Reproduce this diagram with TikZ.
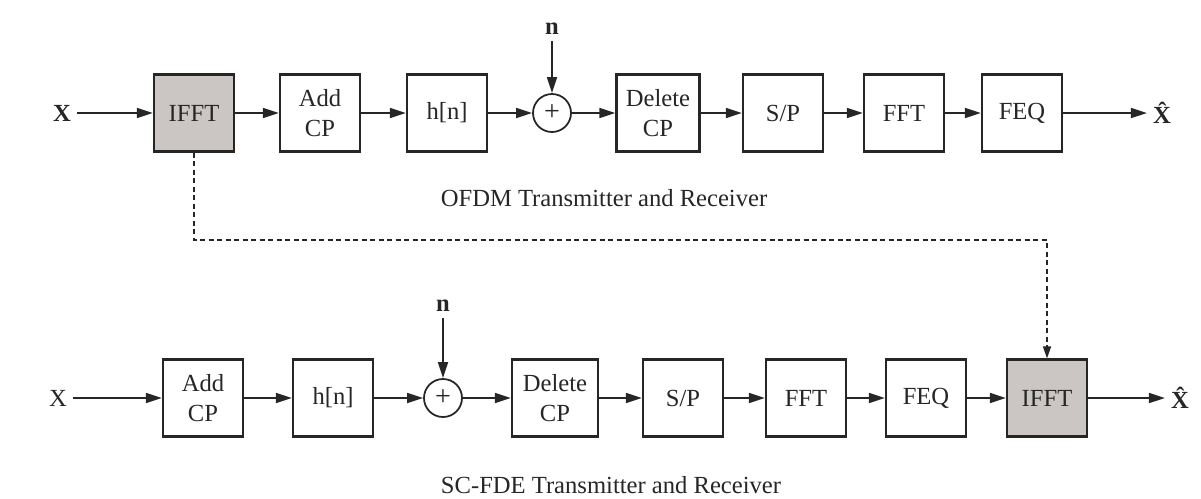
\documentclass[tikz,border=0pt]{standalone}
\usepackage{fontspec}
\setmainfont{Liberation Serif}
\usetikzlibrary{arrows.meta}
\definecolor{ink}{HTML}{262626}
\definecolor{shade}{HTML}{CBC6C4}
\tikzset{
  block/.style={draw=ink, line width=1.3pt, minimum width=16mm, minimum height=15.4mm,
    inner sep=0pt, align=center, text=ink, font=\fontsize{14}{17}\selectfont},
  graybox/.style={block, fill=shade},
  adder/.style={draw=ink, line width=1pt, circle, minimum size=7.6mm, inner sep=0pt,
    text=ink, font=\fontsize{16}{16}\selectfont},
  sig/.style={draw=ink, line width=1pt, -{Triangle[length=3.2mm,width=2mm]}},
  link/.style={draw=ink, line width=0.9pt, dash pattern=on 1mm off 0.7mm,
    -{Triangle[length=2.4mm,width=1.6mm]}},
  lbl/.style={text=ink, font=\fontsize{14}{15}\selectfont\bfseries},
  caption/.style={text=ink, font=\fontsize{14}{16}\selectfont}
}
\begin{document}
\begin{tikzpicture}[x=0.2mm, y=-0.2mm]
  \useasboundingbox (0,0) rectangle (1201,498);
  % OFDM chain
  \node[lbl] (x1) at (62,113) {X};
  \node[graybox] (ifft1) at (194,113) {IFFT};
  \node[block] (addcp1) at (320,113) {Add\\CP};
  \node[block] (h1) at (447,113) {h[n]};
  \node[adder] (sum1) at (552,113) {+};
  \node[lbl] (n1) at (552,29) {n};
  \node[block, minimum width=16.6mm] (delcp1) at (658,113) {Delete\\CP};
  \node[block] (sp1) at (783,113) {S/P};
  \node[block] (fft1) at (904,113) {FFT};
  \node[block] (feq1) at (1022,113) {FEQ};
  \node[lbl] (xh1) at (1162,113) {\^{X}};
  \node[caption] (cap1) at (604,198) {OFDM Transmitter and Receiver};
  % SC-FDE chain
  \node[lbl, font=\fontsize{14}{15}\selectfont] (x2) at (58,398) {X};
  \node[block] (addcp2) at (203,398) {Add\\CP};
  \node[block] (h2) at (333,398) {h[n]};
  \node[adder] (sum2) at (443,398) {+};
  \node[lbl] (n2) at (443,306) {n};
  \node[block, minimum width=17.2mm] (delcp2) at (555,398) {Delete\\CP};
  \node[block] (sp2) at (683,398) {S/P};
  \node[block] (fft2) at (806,398) {FFT};
  \node[block] (feq2) at (926,398) {FEQ};
  \node[graybox] (ifft2) at (1047,398) {IFFT};
  \node[lbl] (xh2) at (1180,398) {\^{X}};
  \node[caption] (cap2) at (611,485) {SC-FDE Transmitter and Receiver};
  % Signal arrows
  \foreach \a/\b in {x1/ifft1, ifft1/addcp1, addcp1/h1, h1/sum1, n1/sum1, sum1/delcp1,
      delcp1/sp1, sp1/fft1, fft1/feq1, feq1/xh1,
      x2/addcp2, addcp2/h2, h2/sum2, n2/sum2, sum2/delcp2, delcp2/sp2, sp2/fft2,
      fft2/feq2, feq2/ifft2, ifft2/xh2}
    \draw[sig] (\a) -- (\b);
  % IFFT moved to the receiver
  \coordinate (via) at (0,240);
  \draw[link] (ifft1.south) -- (ifft1.south |- via) -| (ifft2.north);
\end{tikzpicture}
\end{document}
